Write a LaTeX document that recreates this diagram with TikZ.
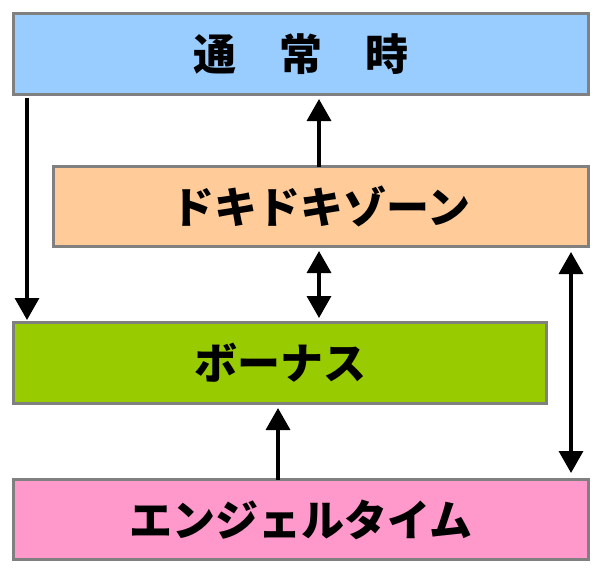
\documentclass[tikz,border=0pt]{standalone}
\usepackage{fontspec}
\newfontfamily\jp{Noto Sans CJK JP}
\usetikzlibrary{arrows.meta}
\definecolor{cblue}{HTML}{99CCFF}
\definecolor{cpeach}{HTML}{FFCC99}
\definecolor{cgreen}{HTML}{99CC00}
\definecolor{cpink}{HTML}{FF99CC}
\definecolor{cborder}{HTML}{808080}
\tikzset{
  box/.style={draw=cborder, line width=3pt, rectangle, inner sep=0pt, anchor=north west,
    font=\jp\bfseries\fontsize{43}{50}\selectfont},
  arr/.style={line width=3.5pt, -{Triangle[width=24pt,length=22pt]}},
  darr/.style={line width=3.5pt, {Triangle[width=24pt,length=22pt]}-{Triangle[width=24pt,length=22pt]}}
}
\begin{document}
\begin{tikzpicture}[x=1pt,y=-1pt]
\useasboundingbox (0,0) rectangle (600,571);
\fill[white] (0,0) rectangle (600,571);
\node[box, fill=cblue, minimum width=575pt, minimum height=81pt] (b1) at (12,12) {};
\node at (b1.center) [font=\jp\bfseries\fontsize{43}{50}\selectfont] (t1) {通　常　時};
\node[box, fill=cpeach, minimum width=535pt, minimum height=80pt] (b2) at (52,165) {};
\node at (b2.center) [font=\jp\bfseries\fontsize{43}{50}\selectfont] (t2) {ドキドキゾーン};
\node[box, fill=cgreen, minimum width=533pt, minimum height=81pt] (b3) at (12,321) {};
\node at (b3.center) [font=\jp\bfseries\fontsize{43}{50}\selectfont] (t3) {ボーナス};
\node[box, fill=cpink, minimum width=575pt, minimum height=80pt] (b4) at (12,478) {};
\node at (b4.center) [font=\jp\bfseries\fontsize{43}{50}\selectfont] (t4) {エンジェルタイム};
\coordinate (xa) at (27,0);
\coordinate (xb) at (319,0);
\coordinate (xe) at (278,0);
\coordinate (xd) at (571,0);
\draw[arr] ([yshift=-1.5pt]b1.south -| xa) -- ([yshift=1pt]b3.north -| xa);
\draw[arr] ([yshift=-1.5pt]b2.north -| xb) -- ([yshift=-3pt]b1.south -| xb);
\draw[darr] ([yshift=-3pt]b2.south -| xb) -- ([yshift=3pt]b3.north -| xb);
\draw[darr] ([yshift=-4pt]b2.south -| xd) -- ([yshift=5pt]b4.north -| xd);
\draw[arr] ([yshift=-1.5pt]b4.north -| xe) -- ([yshift=-3pt]b3.south -| xe);
\end{tikzpicture}
\end{document}
